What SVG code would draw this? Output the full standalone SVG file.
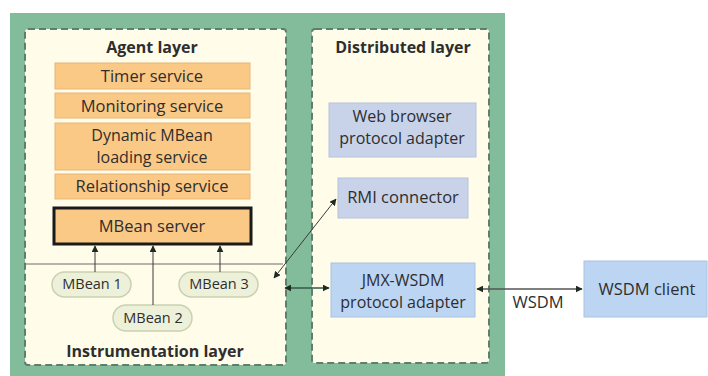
<svg xmlns="http://www.w3.org/2000/svg" width="708" height="376" viewBox="0 0 708 376">
<defs>
<marker id="ah" viewBox="0 0 10 10" refX="9" refY="5" markerWidth="7" markerHeight="7" orient="auto-start-reverse" markerUnits="userSpaceOnUse">
<path d="M0,0 L10,5 L0,10 z" fill="#1e2a24"/>
</marker>
<style>
text{font-family:"Open Sans","Liberation Sans",sans-serif;fill:#2e2e2e;text-anchor:middle}
.t{font-size:16.5px}
.m{font-size:16px}
.p{font-size:14.5px}
.h{font-size:16px;font-weight:bold}
.panel{fill:#fffcea;stroke:#5f7e6c;stroke-width:2;stroke-dasharray:7,4}
.svc{fill:#fbc986;stroke:#eab474;stroke-width:1}
.srv{fill:#fbc986;stroke:#1a1a1a;stroke-width:3}
.blue{fill:#c8d3ea;stroke:#b6c2dc;stroke-width:1}
.blue2{fill:#bcd5f2;stroke:#a9c2e0;stroke-width:1}
.pill{fill:#eef1da;stroke:#c9d1b0;stroke-width:1.5}
.ln{stroke:#3a3a3a;stroke-width:1;fill:none}
.gl{stroke:#2f5a44;stroke-width:1.5;fill:none}
</style>
</defs>
<rect x="10" y="13" width="495" height="363" fill="#83bc9b"/>
<g id="agent-panel">
<rect class="panel" x="25" y="29" width="261" height="336" rx="3"/>
<text class="h" x="152" y="53">Agent layer</text>
<text class="h" x="155" y="357">Instrumentation layer</text>
</g>
<g id="distributed-panel">
<rect class="panel" x="312" y="29" width="177" height="334" rx="3"/>
<text class="h" x="403" y="53">Distributed layer</text>
</g>
<g id="timer"><rect class="svc" x="55" y="63" width="195" height="26"/><text class="t" x="152" y="82">Timer service</text></g>
<g id="monitoring"><rect class="svc" x="55" y="93" width="195" height="25"/><text class="t" x="152" y="112">Monitoring service</text></g>
<g id="dynamic"><rect class="svc" x="55" y="123" width="195" height="47"/><text class="m" x="152" y="141">Dynamic MBean</text><text class="m" x="152" y="163">loading service</text></g>
<g id="relationship"><rect class="svc" x="55" y="174" width="195" height="25"/><text class="t" x="152" y="192">Relationship service</text></g>
<g id="mbean-server"><rect class="srv" x="54" y="208" width="197" height="36"/><text class="t" x="152" y="232">MBean server</text></g>
<g id="mbean1"><rect class="pill" x="52" y="272" width="79" height="25" rx="12.5"/><text class="p" x="92" y="289">MBean 1</text></g>
<g id="mbean2"><rect class="pill" x="113" y="305" width="79" height="26" rx="13"/><text class="p" x="153" y="323">MBean 2</text></g>
<g id="mbean3"><rect class="pill" x="179" y="272" width="79" height="25" rx="12.5"/><text class="p" x="219" y="289">MBean 3</text></g>
<g id="web-browser"><rect class="blue" x="329" y="103" width="147" height="54"/><text class="m" x="402" y="122">Web browser</text><text class="m" x="402" y="144">protocol adapter</text></g>
<g id="rmi"><rect class="blue" x="338" y="178" width="130" height="40"/><text class="t" x="403" y="203">RMI connector</text></g>
<g id="jmx-wsdm"><rect class="blue2" x="331" y="263" width="144" height="54"/><text class="m" x="403" y="286">JMX-WSDM</text><text class="m" x="403" y="308">protocol adapter</text></g>
<g id="wsdm-client"><rect class="blue2" x="584" y="261" width="123" height="56"/><text class="t" x="647" y="295">WSDM client</text></g>
<g id="connectors">
<line x1="25" y1="264" x2="283" y2="264" stroke="#6a6a6a" stroke-width="1"/>
<line class="ln" x1="95" y1="272" x2="95" y2="246" marker-end="url(#ah)"/>
<line class="ln" x1="153" y1="305" x2="153" y2="246" marker-end="url(#ah)"/>
<line class="ln" x1="220" y1="272" x2="220" y2="246" marker-end="url(#ah)"/>
<line class="ln" x1="274" y1="278" x2="336" y2="199" marker-start="url(#ah)" marker-end="url(#ah)"/>
<line class="gl" x1="285" y1="288" x2="329" y2="288" marker-start="url(#ah)" marker-end="url(#ah)"/>
<line x1="477" y1="289" x2="582" y2="289" stroke="#555" stroke-width="1.5" marker-start="url(#ah)" marker-end="url(#ah)"/>
<text class="t" x="538" y="308">WSDM</text>
</g>
</svg>
